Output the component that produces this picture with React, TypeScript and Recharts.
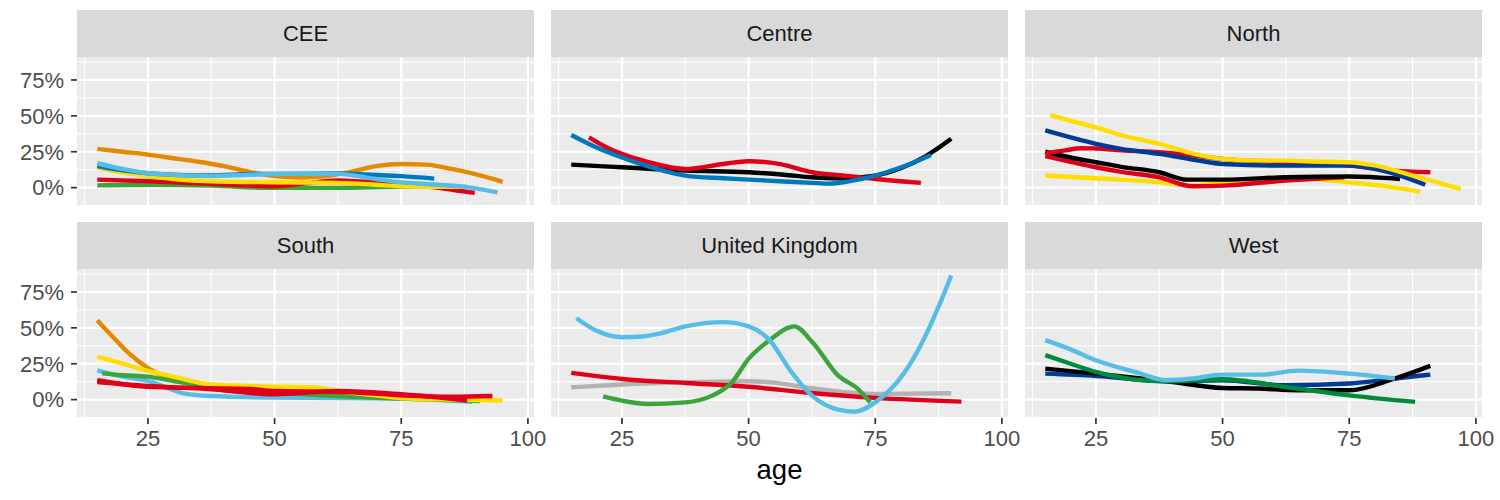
import { LineChart, Line, XAxis, YAxis, CartesianGrid } from "recharts"

const AGE_DOMAIN = [11, 101.2]
const SHARE_DOMAIN = [-12.8, 91]
const AGE_TICKS = [25, 50, 75, 100]
const AGE_MINOR = [12.5, 37.5, 62.5, 87.5]
const SHARE_TICKS = [0, 25, 50, 75]
const SHARE_MINOR = [-12.5, 12.5, 37.5, 62.5, 87.5]

// each series: [age, share in %]
const ceeOrange = [[15, 27], [20, 25], [25, 23], [30, 20.5], [35, 18], [40, 15], [45, 11], [50, 8], [55, 7], [60, 8], [65, 11], [70, 15], [75, 16.5], [80, 16], [85, 13], [90, 9], [95, 4]]
const ceeLightBlue = [[15, 17], [20, 13], [25, 10], [30, 9], [37.5, 8], [45, 9], [50, 9.6], [62.5, 9.6], [70, 6], [75, 3.7], [80, 2.5], [87.5, 0.5], [94, -3.3]]
const ceeBlue = [[15, 15], [20, 12], [25, 10], [30, 9], [37.5, 8.4], [45, 9.5], [50, 9.6], [62.5, 9.8], [70, 8.8], [75, 8], [81.5, 6.3]]
const ceeYellow = [[15, 14], [20, 10.5], [25, 8], [30, 6], [37.5, 4.4], [50, 3.7], [62.5, 3.3], [70, 2], [75, 1], [88, 0.5]]
const ceeRed = [[15, 5.6], [25, 4.4], [37.5, 2.6], [45, 1.5], [50, 1], [56, 3], [62.5, 5], [70, 3.5], [75, 2], [82, 0], [86, -2], [89.5, -3.7]]
const ceeGreen = [[15, 1.6], [25, 2], [37.5, 1.4], [50, -0.2], [62.5, -0.2], [75, 0.7], [88, 0.5]]

const centreBlue = [[15, 36.7], [20, 28], [25, 21], [30, 15], [37.5, 8.4], [45, 6.5], [50, 5.6], [57, 4.3], [62.5, 3.3], [66, 2.8], [70, 4.5], [75, 8.4], [80, 14], [86, 22.8]]
const centreRed = [[18.5, 35], [22, 28], [25, 23.5], [30, 18], [37.5, 13], [45, 16.5], [50, 18.4], [56, 16.5], [62.5, 10.7], [70, 8], [75, 6], [84, 3.3]]
const centreBlack = [[15, 16], [25, 14.2], [37.5, 11.9], [50, 10.7], [57, 9], [62.5, 7.2], [68, 6.5], [75, 8.4], [80, 13.5], [85, 22], [90, 34]]

const northYellowHigh = [[16, 50.7], [20, 46.5], [25, 42], [30, 36.5], [37.5, 30.5], [45, 23], [50, 20], [56, 19], [62.5, 18.8], [70, 18], [75, 17.7], [80, 15.5], [87.5, 8.4], [92, 4], [97, -1]]
const northNavy = [[15, 39.8], [20, 35], [25, 30.5], [30, 27], [37.5, 23.5], [45, 19], [50, 16.5], [62.5, 15.3], [75, 15.3], [80, 13], [85, 8.4], [90, 2]]
const northRedHigh = [[15, 24], [19, 26], [22, 27.4], [25, 27.3], [30, 26], [37.5, 24.7], [45, 22], [50, 20], [62.5, 17.7], [75, 15.3], [83, 12], [91, 10.7]]
const northRedLow = [[15, 21.9], [20, 18], [25, 14.2], [30, 11], [37.5, 7.2], [44, 1], [50, 1.4], [62.5, 4.9], [70, 6.5], [74, 7.2]]
const northBlack = [[15, 25], [20, 21], [25, 17.7], [30, 14.5], [37.5, 10.7], [43, 5.6], [50, 5.6], [62.5, 7.2], [75, 7.7], [85, 6]]
const northYellowLow = [[15, 8.4], [25, 6.5], [37.5, 3.7], [44, 1.4], [50, 3.7], [62.5, 7.2], [70, 5.5], [75, 3.7], [82, 1], [89, -2.8]]

const southOrange = [[15, 55.3], [18, 44], [21.5, 31.5], [25, 22], [28, 16.4], [32, 11.8], [37, 8], [45, 5], [55, 3], [65, 2], [75, 1], [88, 0]]
const southYellow = [[15, 29.9], [20, 25], [25, 20], [30, 16], [37.5, 10.6], [45, 9.5], [50, 9], [58.5, 8.3], [62.5, 6], [70, 3], [75, 1], [85, 0], [95, -0.5]]
const southGreen = [[16, 18.3], [20, 17], [25, 16], [30, 13], [37.5, 9.5], [45, 7], [50, 5.3], [62.5, 2.5], [75, 0.7], [90.5, -1]]
const southLightBlue = [[15, 20.4], [20, 16], [25, 13], [29, 8], [32, 4.4], [37.5, 2.5], [50, 1.4], [75, 0.7], [89, -1.6]]
const southRedA = [[15, 12.3], [25, 9.5], [37.5, 7.2], [50, 3.7], [62.5, 6], [75, 3.7], [88, -0.5]]
const southRedB = [[15, 13.5], [25, 9], [37.5, 8], [45, 7.5], [50, 6], [62.5, 5.5], [75, 3], [85, 2], [93, 2.5]]

const ukLightBlue = [[16, 56.7], [20, 48], [25, 43.5], [29, 44], [33, 46.5], [37.5, 51], [45, 54], [50, 51], [54, 42], [58.5, 19], [62.5, 2.8], [67.7, -7], [71, -8.4], [75, -1.9], [80.8, 19], [84, 38], [87.6, 65.6], [90, 86.5]]
const ukGreen = [[21.3, 2.3], [25, -0.7], [30, -3], [37.5, -1.9], [42.8, 2.8], [46.7, 12], [50, 28.4], [54, 41], [59, 51], [62.6, 40], [67.7, 16.7], [71.6, 7.4], [74, -1.9]]
const ukRed = [[15, 18.6], [25, 14.4], [37.5, 11.6], [50, 9], [62.5, 4.6], [75, 1.2], [92, -1.4]]
const ukGray = [[15, 8.6], [25, 10.5], [37.5, 12], [50, 12.8], [54.6, 12], [62.5, 7.9], [75, 4], [90, 4.4]]

const westLightBlue = [[15, 41.4], [20, 35], [25, 27.4], [32.7, 19.3], [39, 13.5], [44, 14.7], [50, 17.4], [57.5, 17.4], [65, 20.2], [75, 18.1], [84, 14.7]]
const westGreen = [[15, 31], [20, 25], [25, 19.3], [32.7, 14], [39, 12.8], [50, 14.2], [62.5, 8.8], [75, 3], [88, -1.6]]
const westBlack = [[15, 21.6], [25, 18.1], [39, 12.8], [50, 8.1], [57, 7.7], [65, 6.5], [75, 6.5], [84, 14.7], [91, 23.5]]
const westNavy = [[15, 18.1], [25, 16.5], [39, 12.8], [50, 13.5], [62.5, 10], [75, 11.2], [84, 14.7], [91, 17.4]]

const C = {
  orange: "#E58A00",
  lightBlue: "#56BEE6",
  blue: "#0078BE",
  navy: "#003C96",
  yellow: "#FFDD00",
  red: "#E0001A",
  green: "#3AA53A",
  darkGreen: "#008A3C",
  gray: "#B2B2B2",
  black: "#000000",
}

const PANELS = [
  { region: "CEE", series: [[ceeGreen, C.green], [ceeRed, C.red], [ceeYellow, C.yellow], [ceeOrange, C.orange], [ceeBlue, C.blue], [ceeLightBlue, C.lightBlue]] },
  { region: "Centre", series: [[centreBlack, C.black], [centreRed, C.red], [centreBlue, C.blue]] },
  { region: "North", series: [[northYellowLow, C.yellow], [northRedLow, C.red], [northBlack, C.black], [northRedHigh, C.red], [northNavy, C.navy], [northYellowHigh, C.yellow]] },
  { region: "South", series: [[southOrange, C.orange], [southLightBlue, C.lightBlue], [southGreen, C.green], [southYellow, C.yellow], [southRedB, C.red], [southRedA, C.red]] },
  { region: "United Kingdom", series: [[ukGray, C.gray], [ukRed, C.red], [ukGreen, C.green], [ukLightBlue, C.lightBlue]] },
  { region: "West", series: [[westNavy, C.navy], [westBlack, C.black], [westGreen, C.darkGreen], [westLightBlue, C.lightBlue]] },
]

const LEFT = 77
const PANEL_W = 457
const GAP = 17
const ROW_TOP = [10, 222]
const STRIP_H = 47
const PANEL_H = 149
const X_AXIS_H = 45
const RIGHT_PAD = 18

const tickStyle = { fill: "#4D4D4D", fontSize: 22 }
const tickLine = { stroke: "#333333", strokeWidth: 1.7 }

function Panel({ index }: { index: number }) {
  const col = index % 3
  const row = Math.floor(index / 3)
  const panel = PANELS[index]
  const panelLeft = LEFT + col * (PANEL_W + GAP)
  const yw = col === 0 ? LEFT : 0
  const xh = row === 1 ? X_AXIS_H : 0
  const top = ROW_TOP[row]

  return (
    <>
      <div
        style={{
          position: "absolute",
          left: panelLeft,
          top,
          width: PANEL_W,
          height: STRIP_H,
          background: "#D9D9D9",
          color: "#1A1A1A",
          fontSize: 22,
          display: "flex",
          alignItems: "center",
          justifyContent: "center",
        }}
      >
        {panel.region}
      </div>
      <div style={{ position: "absolute", left: panelLeft - yw, top: top + STRIP_H }}>
        <LineChart
          width={PANEL_W + yw + RIGHT_PAD}
          height={PANEL_H + xh}
          margin={{ top: 0, right: RIGHT_PAD, bottom: 0, left: 0 }}
        >
          <CartesianGrid
            fill="#EBEBEB"
            stroke="#FFFFFF"
            strokeWidth={1}
            horizontalValues={SHARE_MINOR}
            verticalValues={AGE_MINOR}
          />
          <CartesianGrid
            stroke="#FFFFFF"
            strokeWidth={2.2}
            horizontalValues={SHARE_TICKS}
            verticalValues={AGE_TICKS}
          />
          <XAxis
            dataKey="age"
            type="number"
            domain={AGE_DOMAIN}
            ticks={AGE_TICKS}
            allowDataOverflow
            hide={row === 0}
            height={X_AXIS_H}
            axisLine={false}
            tickLine={tickLine}
            tickSize={6}
            tickMargin={6}
            tick={tickStyle}
            interval={0}
          />
          <YAxis
            type="number"
            domain={SHARE_DOMAIN}
            ticks={SHARE_TICKS}
            allowDataOverflow
            hide={col !== 0}
            width={LEFT}
            axisLine={false}
            tickLine={tickLine}
            tickSize={6}
            tickMargin={7}
            tick={tickStyle}
            tickFormatter={(v) => `${v}%`}
            interval={0}
          />
          {panel.series.map(([pts, color], i) => (
            <Line
              key={i}
              data={(pts as number[][]).map(([age, share]) => ({ age, share }))}
              dataKey="share"
              type="monotone"
              stroke={color as string}
              strokeWidth={4.4}
              dot={false}
              activeDot={false}
              isAnimationActive={false}
            />
          ))}
        </LineChart>
      </div>
    </>
  )
}

export default function App() {
  return (
    <div
      style={{
        position: "absolute",
        left: 0,
        top: 0,
        width: 1500,
        height: 500,
        background: "#FFFFFF",
        fontFamily: "'Liberation Sans', Arial, sans-serif",
      }}
    >
      {PANELS.map((_, i) => (
        <Panel key={i} index={i} />
      ))}
      <div
        style={{
          position: "absolute",
          left: LEFT,
          width: 3 * PANEL_W + 2 * GAP,
          top: 456,
          fontSize: 27.5,
          lineHeight: "27.5px",
          textAlign: "center",
          color: "#000000",
        }}
      >
        age
      </div>
    </div>
  )
}
